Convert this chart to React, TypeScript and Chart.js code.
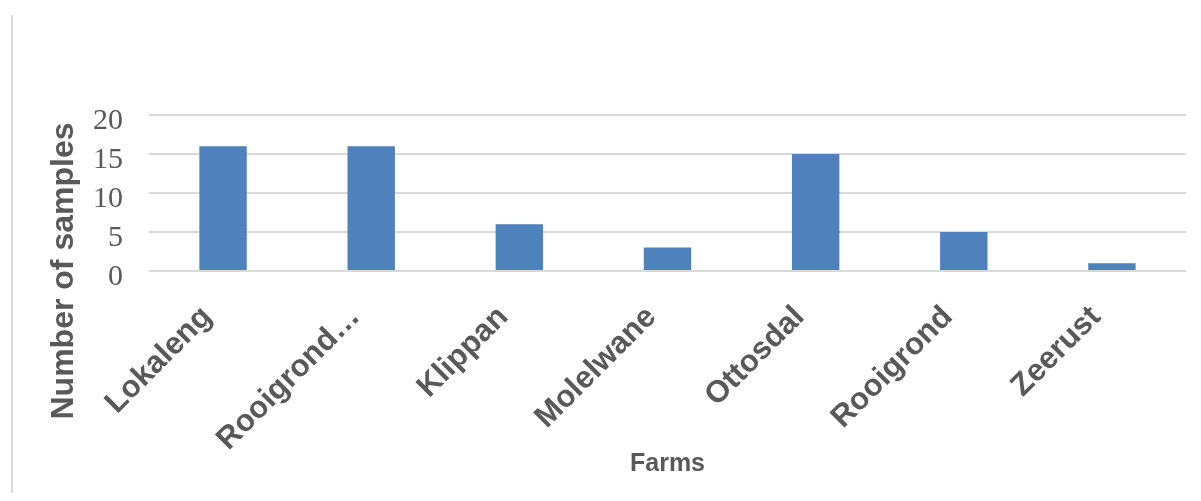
import React, { useEffect, useRef } from "react";
import { Chart, registerables } from "chart.js";

Chart.register(...registerables);

const categories = ["Lokaleng", "Rooigrond…", "Klippan", "Molelwane", "Ottosdal", "Rooigrond", "Zeerust"];
const samples = [16, 16, 6, 3, 15, 5, 1];
const yTickValues = [0, 5, 10, 15, 20];
const xTitle = "Farms";
const yTitle = "Number of samples";

const TEXT = "#595959";
const GRID = "#d9d9d9";
const BAR = "#4f81bd";

const decorPlugin = {
  id: "decor",
  beforeDraw(chart: any) {
    const ctx = chart.ctx;
    ctx.save();
    ctx.fillStyle = GRID;
    ctx.fillRect(3, 7, 2, chart.height);
    ctx.restore();
  },
  afterDraw(chart: any) {
    const ctx = chart.ctx;
    const area = chart.chartArea;
    ctx.save();
    ctx.translate(56, area.bottom);
    ctx.rotate(-Math.PI / 2);
    ctx.font = "bold 32px 'Liberation Sans', Arial, sans-serif";
    ctx.fillStyle = TEXT;
    ctx.textAlign = "center";
    ctx.textBaseline = "middle";
    ctx.fillText(yTitle, 0, 0);
    ctx.restore();
  },
};

export default function App() {
  const ref = useRef<HTMLCanvasElement | null>(null);

  useEffect(() => {
    if (!ref.current) return;
    const chart = new Chart(ref.current, {
      type: "bar",
      data: {
        labels: categories,
        datasets: [
          {
            label: yTitle,
            data: samples,
            backgroundColor: BAR,
            borderWidth: 0,
            barPercentage: 0.32,
            categoryPercentage: 1,
          },
        ],
      },
      options: {
        animation: false,
        responsive: true,
        maintainAspectRatio: false,
        layout: { padding: { top: 107, right: 7, bottom: 0, left: 0 } },
        plugins: {
          legend: { display: false },
          tooltip: { enabled: false },
        },
        scales: {
          x: {
            grid: { display: false, drawTicks: false },
            border: { display: false },
            ticks: {
              autoSkip: false,
              maxRotation: 45,
              minRotation: 45,
              padding: 28,
              labelOffset: -16,
              color: TEXT,
              font: { family: "'Liberation Sans', Arial, sans-serif", size: 31, weight: "bold" },
            },
            title: {
              display: true,
              text: xTitle,
              color: TEXT,
              font: { family: "'Liberation Sans', Arial, sans-serif", size: 25, weight: "bold" },
              padding: { top: 0, bottom: 14 },
            },
            afterFit: (scale: any) => {
              scale.height = 222;
            },
          },
          y: {
            min: 0,
            max: 20,
            afterBuildTicks: (scale: any) => {
              scale.ticks = yTickValues.map((v) => ({ value: v }));
            },
            grid: { color: GRID, lineWidth: 2, drawTicks: false },
            border: { display: false },
            ticks: {
              padding: 26,
              labelOffset: 6,
              color: TEXT,
              font: { family: "'Liberation Serif', 'Times New Roman', serif", size: 30 },
            },
            afterFit: (scale: any) => {
              scale.width = 141;
            },
          },
        },
      },
      plugins: [decorPlugin],
    });
    return () => chart.destroy();
  }, []);

  return (
    <div style={{ position: "relative", width: 1185, height: 485 }}>
      <canvas ref={ref} />
    </div>
  );
}
